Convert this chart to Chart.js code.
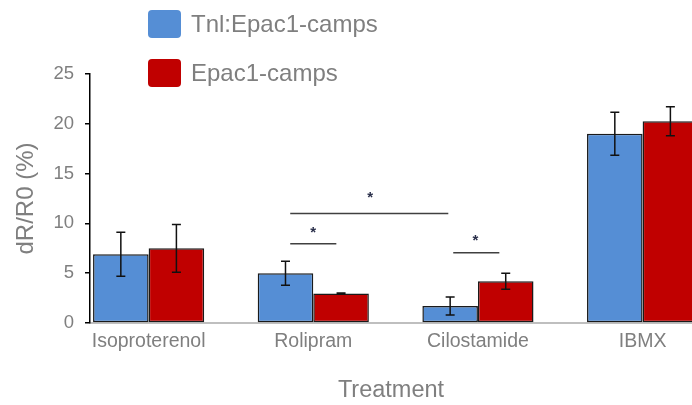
<!DOCTYPE html>
<html><head><meta charset="utf-8">
<script src="https://cdn.jsdelivr.net/npm/chart.js@4/dist/chart.umd.min.js"></script>
<style>html,body{margin:0;padding:0;background:#fff;overflow:hidden}#wrap{width:692px;height:405px;position:relative}</style>
</head><body><div id="wrap"><canvas id="c" width="692" height="405"></canvas></div>
<script>
const categories = ['Isoproterenol', 'Rolipram', 'Cilostamide', 'IBMX'];
const seriesNames = ['Tnl:Epac1-camps', 'Epac1-camps'];
const tnlValues = [6.9, 5.0, 1.7, 19.0];
const tnlErrors = [2.2, 1.2, 0.9, 2.15];
const epacValues = [7.5, 2.95, 4.2, 20.25];
const epacErrors = [2.4, 0.05, 0.8, 1.45];
const yTicks = [0, 5, 10, 15, 20, 25];
// significance brackets (x in category units, y in %)
const sigLines = [
  { from: 0.86, to: 1.14, y: 7.95 },
  { from: 0.86, to: 1.82, y: 11.0 },
  { from: 1.85, to: 2.13, y: 7.05 }
];
const sigStars = [
  { x: 1.0, y: 9.4 },
  { x: 1.346, y: 12.95 },
  { x: 1.984, y: 8.6 }
];

const FONT = "'Liberation Sans', Arial, sans-serif";
const TEXT = '#7f7f7f';
const colors = ['#558ed5', '#c00000'];
const errors = [tnlErrors, epacErrors];

const overlay = {
  id: 'overlay',
  afterDatasetsDraw(chart) {
    const ctx = chart.ctx;
    const xs = chart.scales.x, ys = chart.scales.y;
    ctx.save();
    ctx.strokeStyle = '#111';
    ctx.lineWidth = 1.5;
    chart.data.datasets.forEach((ds, di) => {
      const meta = chart.getDatasetMeta(di);
      meta.data.forEach((bar, i) => {
        const v = ds.data[i].y, e = errors[di][i];
        const x = bar.x;
        const y1 = ys.getPixelForValue(v + e), y2 = ys.getPixelForValue(v - e);
        ctx.beginPath();
        ctx.moveTo(x, y1); ctx.lineTo(x, y2);
        ctx.moveTo(x - 4.5, y1); ctx.lineTo(x + 4.5, y1);
        ctx.moveTo(x - 4.5, y2); ctx.lineTo(x + 4.5, y2);
        ctx.stroke();
      });
    });
    ctx.strokeStyle = '#404040';
    ctx.lineWidth = 1.5;
    sigLines.forEach(l => {
      const y = ys.getPixelForValue(l.y);
      ctx.beginPath();
      ctx.moveTo(xs.getPixelForValue(l.from), y);
      ctx.lineTo(xs.getPixelForValue(l.to), y);
      ctx.stroke();
    });
    ctx.fillStyle = '#2a2f4a';
    ctx.font = 'bold 15px ' + FONT;
    ctx.textAlign = 'center';
    ctx.textBaseline = 'alphabetic';
    sigStars.forEach(s => {
      ctx.fillText('*', xs.getPixelForValue(s.x), ys.getPixelForValue(s.y) + 8);
    });
    ctx.restore();
  },
  afterDraw(chart) {
    const ctx = chart.ctx;
    ctx.save();
    chart.data.datasets.forEach((ds, i) => {
      const top = 10 + i * 49;
      ctx.fillStyle = ds.backgroundColor;
      ctx.beginPath();
      ctx.roundRect(148, top, 33, 28, 4);
      ctx.fill();
      ctx.fillStyle = TEXT;
      ctx.font = '24px ' + FONT;
      ctx.textAlign = 'left';
      ctx.textBaseline = 'middle';
      ctx.fillText(ds.label, 191, top + 15);
    });
    ctx.restore();
  }
};

new Chart(document.getElementById('c'), {
  type: 'bar',
  data: {
    datasets: [
      { label: seriesNames[0], data: tnlValues.map((v, i) => ({ x: i, y: v })), backgroundColor: colors[0] },
      { label: seriesNames[1], data: epacValues.map((v, i) => ({ x: i, y: v })), backgroundColor: colors[1] }
    ]
  },
  options: {
    responsive: false,
    animation: false,
    devicePixelRatio: 1,
    layout: { padding: { top: 74, right: 0, left: 0, bottom: 0 } },
    datasets: { bar: { borderColor: '#1a1a1a', borderWidth: 1.5, borderSkipped: false, barPercentage: 1, categoryPercentage: 0.675 } },
    plugins: { legend: { display: false }, tooltip: { enabled: false } },
    scales: {
      x: {
        type: 'linear', min: -0.356, max: 3.3, offset: false,
        grid: { display: false, drawTicks: false },
        border: { display: true, color: '#bfbfbf', width: 2 },
        afterBuildTicks: s => { s.ticks = categories.map((c, i) => ({ value: i })); },
        ticks: { autoSkip: false, maxRotation: 0, padding: 7, color: TEXT, font: { family: FONT, size: 19.5 },
          callback: v => categories[v] },
        title: { display: true, text: 'Treatment', color: TEXT, font: { family: FONT, size: 23.5 }, padding: { top: 0, bottom: 0 } },
        afterFit: s => { s.height = 82; }
      },
      y: {
        min: 0, max: 25,
        afterBuildTicks: s => { s.ticks = yTicks.map(v => ({ value: v })); },
        grid: { drawOnChartArea: false, drawTicks: true, tickLength: 5, color: '#000', lineWidth: 1.5 },
        border: { display: true, color: '#000', width: 1.5 },
        ticks: { padding: 11, color: TEXT, font: { family: FONT, size: 18.5 } },
        title: { display: true, text: 'dR/R0 (%)', color: TEXT, font: { family: FONT, size: 24 }, padding: { top: 12, bottom: 0 } },
        afterFit: s => { s.width = 90; }
      }
    }
  },
  plugins: [overlay]
});
</script>
</body></html>
